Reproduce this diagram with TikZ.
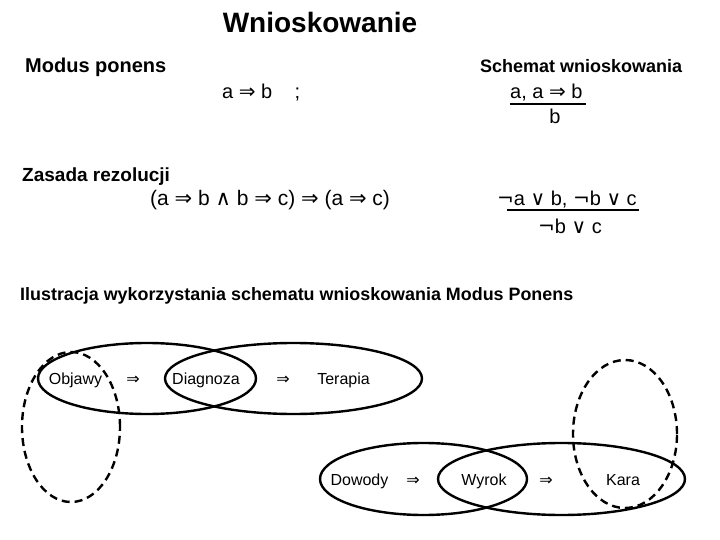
\documentclass[tikz,border=0pt]{standalone}
\usepackage{fontspec}
\setmainfont{Liberation Sans}
\newfontfamily\symf{DejaVu Sans}
\usetikzlibrary{shapes.geometric}
\newcommand{\IMP}{{\symf ⇒}}
\newcommand{\AND}{{\symf ∧}}
\newcommand{\OR}{{\symf ∨}}
\newcommand{\NEG}{{\symf ¬}}
\tikzset{
  txt/.style={inner sep=0pt, anchor=west},
  oval/.style={draw, ellipse, line width=2.4pt, inner sep=0pt},
  dashoval/.style={draw, ellipse, line width=2.4pt, inner sep=0pt, dash pattern=on 8pt off 5pt},
  rule/.style={line width=2.6pt},
  small/.style={font=\fontsize{16}{18}\selectfont, inner sep=0pt, anchor=base}
}
\begin{document}
\begin{tikzpicture}[x=1pt,y=-1pt]
\useasboundingbox (0,0) rectangle (720,540);
% titles
\node[inner sep=0pt, font=\fontsize{28}{32}\bfseries\selectfont] (title) at (320,22) {Wnioskowanie};
\node[txt, font=\fontsize{20}{24}\bfseries\selectfont] (mp) at (25,67) {Modus ponens};
\node[txt, font=\fontsize{20}{24}\selectfont] (impl) at (222,93) {a \IMP\ b \ \ \ ;};
\node[txt, font=\fontsize{18}{22}\bfseries\selectfont] (schem) at (480,66) {Schemat wnioskowania};
\node[txt, font=\fontsize{20}{24}\selectfont] (prem) at (510,93) {a, a \IMP\ b};
\node[inner sep=0pt, font=\fontsize{20}{24}\selectfont] (concl) at (555,116) {b};
\coordinate (l1a) at (510,104);
\coordinate (l1b) at (586,104);
\draw[rule] (l1a) -- (l1b);
% resolution
\node[txt, font=\fontsize{19}{23}\bfseries\selectfont] (zr) at (22,177) {Zasada rezolucji};
\node[txt, font=\fontsize{21}{25}\selectfont] (form) at (150,200) {(a \IMP\ b \AND\ b \IMP\ c) \IMP\ (a \IMP\ c)};
\node[txt, font=\fontsize{20}{24}\selectfont] (rprem) at (497,200) {\NEG a \OR\ b, \NEG b \OR\ c};
\node[inner sep=0pt, font=\fontsize{20}{24}\selectfont] (rconc) at (570,226) {\NEG b \OR\ c};
\coordinate (l2a) at (507,210);
\coordinate (l2b) at (639,210);
\draw[rule] (l2a) -- (l2b);
% illustration heading
\node[txt, font=\fontsize{17.9}{22}\bfseries\selectfont] (ilus) at (20,296) {Ilustracja wykorzystania schematu wnioskowania Modus Ponens};
% top row ellipses
\node[oval, minimum width=218pt, minimum height=71pt] (e1) at (147,378.5) {};
\node[oval, minimum width=257pt, minimum height=71pt] (e2) at (293.5,378.5) {};
\node[dashoval, minimum width=98pt, minimum height=150pt] (d1) at (71,427) {};
\node[small] (objawy) at (75.5,384) {Objawy};
\node[small] (a1) at (133,384) {\IMP};
\node[small] (diag) at (206,384) {Diagnoza};
\node[small] (a2) at (283,384) {\IMP};
\node[small] (ter) at (343.5,384) {Terapia};
% bottom row ellipses
\node[oval, minimum width=207pt, minimum height=72pt] (e3) at (423.5,479) {};
\node[oval, minimum width=247pt, minimum height=72pt] (e4) at (561.5,479) {};
\node[dashoval, minimum width=104pt, minimum height=148pt] (d2) at (625,434) {};
\node[small] (dow) at (359.5,485) {Dowody};
\node[small] (a3) at (413,485) {\IMP};
\node[small] (wyr) at (484,485) {Wyrok};
\node[small] (a4) at (546,485) {\IMP};
\node[small] (kara) at (623,485) {Kara};
\end{tikzpicture}
\end{document}
